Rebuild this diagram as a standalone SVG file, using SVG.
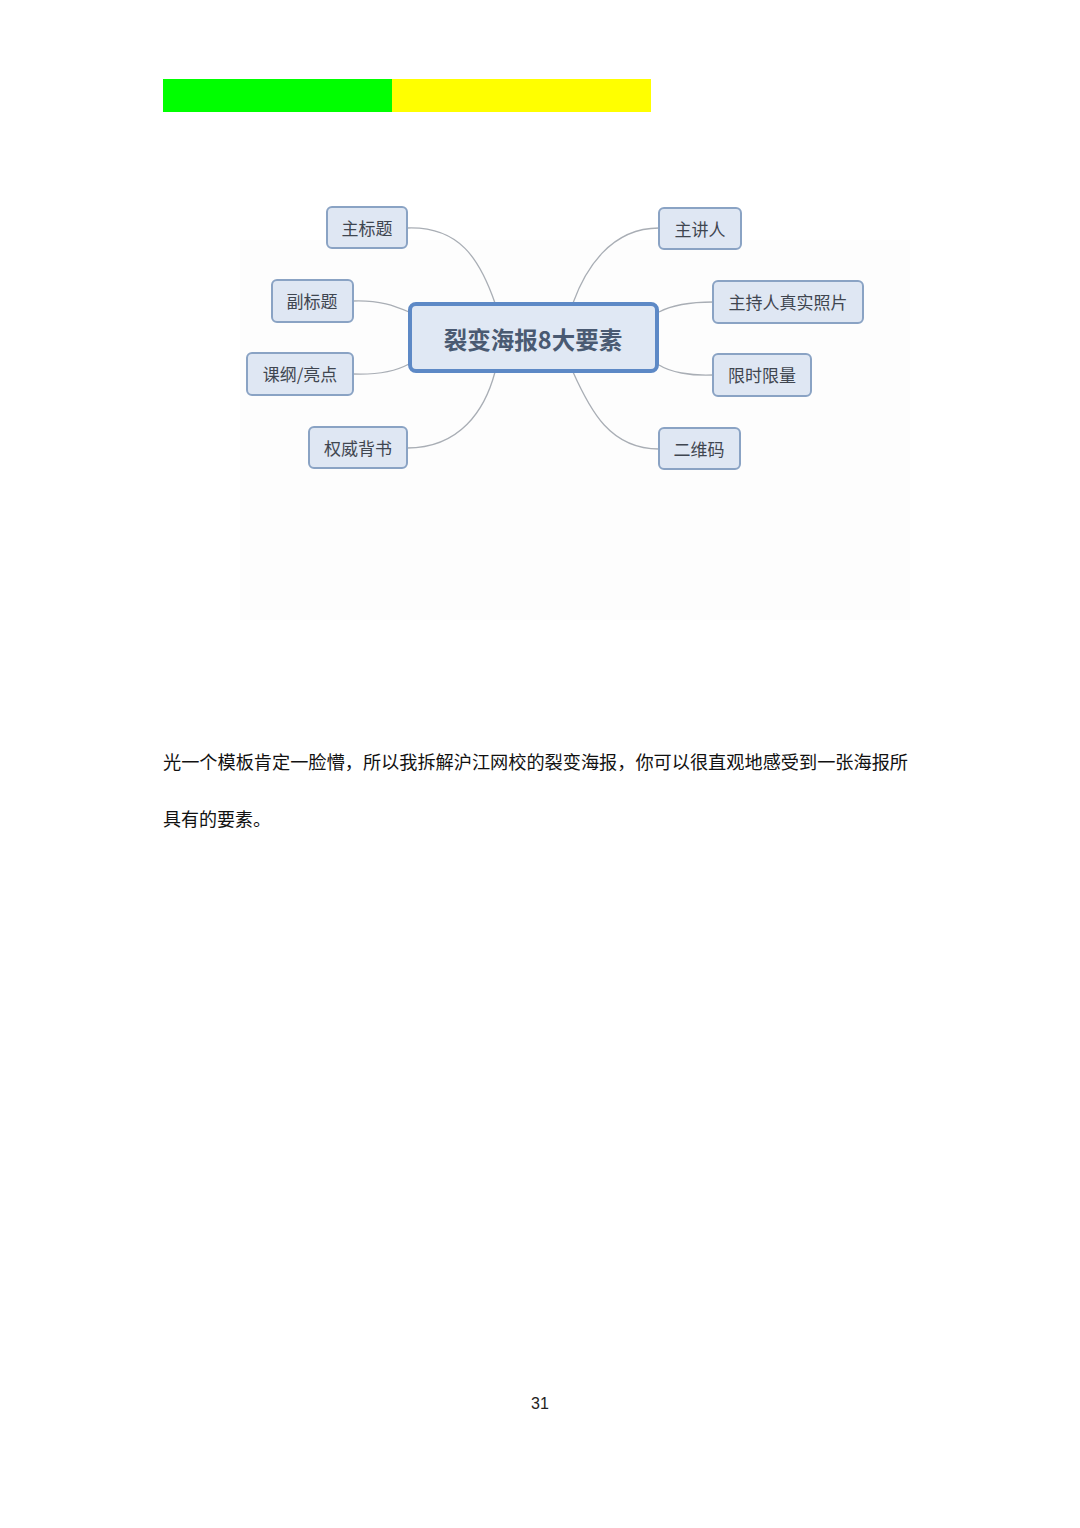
<svg xmlns="http://www.w3.org/2000/svg" width="1080" height="1528" viewBox="0 0 1080 1528">
<style>
.n rect{fill:#dfe7f3;stroke:#8aa3c4;stroke-width:2}
.n text{font-family:"Noto Sans CJK SC","Noto Sans",sans-serif;font-size:17px;fill:#3f4650;text-anchor:middle}
.c path{fill:none;stroke:#a9aeb5;stroke-width:1.3}
.p{font-family:"Noto Sans CJK SC","Noto Sans",sans-serif;font-size:18px;fill:#111}
</style>
<rect width="1080" height="1528" fill="#fff"/>
<rect x="163" y="79" width="229" height="33" fill="#00ff00"/>
<rect x="392" y="79" width="259" height="33" fill="#ffff00"/>
<rect x="240" y="240" width="670" height="380" fill="#fdfdfd"/>
<g class="c">
<path d="M407,228 C460,226 480,260 495,303"/>
<path d="M353,301 C380,300 395,306 409,312"/>
<path d="M353,374 C380,375 398,370 409,364"/>
<path d="M407,448 C460,448 485,410 495,372"/>
<path d="M659,228 C610,228 585,270 573,303"/>
<path d="M713,302 C690,302 672,305 659,312"/>
<path d="M713,375 C690,376 670,372 659,365"/>
<path d="M659,449 C610,449 590,410 573,372"/>
</g>
<g id="center" class="n">
<rect x="410" y="304" width="247" height="67" rx="6" style="fill:#e0e8f4;stroke:#5d89c6;stroke-width:4"/>
<text x="533" y="349" style="font-size:23.5px;font-weight:bold;fill:#4a5a72">裂变海报8大要素</text>
</g>
<g id="n1" class="n"><rect x="327" y="207" width="80" height="41" rx="5"/><text x="367" y="235">主标题</text></g>
<g id="n2" class="n"><rect x="272" y="280" width="81" height="42" rx="5"/><text x="312" y="308">副标题</text></g>
<g id="n3" class="n"><rect x="247" y="353" width="106" height="42" rx="5"/><text x="300" y="381">课纲/亮点</text></g>
<g id="n4" class="n"><rect x="309" y="427" width="98" height="41" rx="5"/><text x="358" y="455">权威背书</text></g>
<g id="n5" class="n"><rect x="659" y="208" width="82" height="41" rx="5"/><text x="700" y="236">主讲人</text></g>
<g id="n6" class="n"><rect x="713" y="281" width="150" height="42" rx="5"/><text x="788" y="309">主持人真实照片</text></g>
<g id="n7" class="n"><rect x="713" y="354" width="98" height="42" rx="5"/><text x="762" y="382">限时限量</text></g>
<g id="n8" class="n"><rect x="659" y="428" width="81" height="41" rx="5"/><text x="699" y="456">二维码</text></g>
<text class="p" x="163" y="769" textLength="745" lengthAdjust="spacingAndGlyphs">光一个模板肯定一脸懵，所以我拆解沪江网校的裂变海报，你可以很直观地感受到一张海报所</text>
<text class="p" x="163" y="826">具有的要素。</text>
<text x="540" y="1409" font-family="Liberation Sans, sans-serif" font-size="16" fill="#222" text-anchor="middle">31</text>
</svg>
